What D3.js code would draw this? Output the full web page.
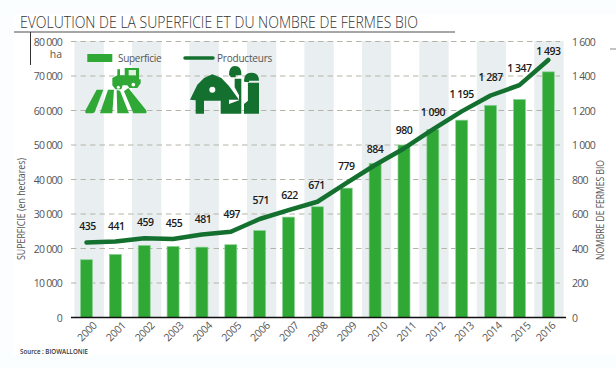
<!DOCTYPE html>
<html>
<head>
<meta charset="utf-8">
<script src="https://cdn.jsdelivr.net/npm/d3@7"></script>
<style>
  html, body { margin: 0; padding: 0; background: #fbfefe; }
  svg { display: block; }
  text { font-family: "Open Sans", sans-serif; }
</style>
</head>
<body>
<div id="chart"></div>
<script>
const years = ['2000','2001','2002','2003','2004','2005','2006','2007','2008','2009','2010','2011','2012','2013','2014','2015','2016'];
const superficie = [16750,18300,20900,20600,20400,21100,25200,29100,32100,37500,44700,50000,54500,57200,61500,63200,71200];
const producteurs = [435,441,459,455,481,497,571,622,671,779,884,980,1090,1195,1287,1347,1493];
const leftTicks = [0,10000,20000,30000,40000,50000,60000,70000,80000];
const rightTicks = [0,200,400,600,800,1000,1200,1400,1600];

const width = 616;
const height = 368;
const green = '#2fa836';
const darkGreen = '#14702f';
const axisGrey = '#555';

const svg = d3.select('#chart').append('svg')
  .attr('width', width)
  .attr('height', height);

svg.append('rect').attr('x', 13).attr('y', 15).attr('width', width - 13).attr('height', 340).attr('fill', '#fff');

const xScale = d3.scalePoint().domain(years).range([86.5, 548.3]);
const bandScale = d3.scaleBand().domain(years).range([74.5, 563]);
const yLeft = d3.scaleLinear().domain([0, 80000]).range([317.5, 41.5]);
const yRight = d3.scaleLinear().domain([0, 1600]).range([317.5, 41.5]);

const fmt = (d) => d3.format(',')(d).replace(',', ' ');

// alternating grey columns
svg.append('g')
  .selectAll('rect')
  .data(years.filter((d, i) => i % 2 === 0))
  .join('rect')
  .attr('x', (d) => bandScale(d))
  .attr('y', 41)
  .attr('width', bandScale.step() + 0.6)
  .attr('height', 276)
  .attr('fill', '#e9eef1');

// gridlines
svg.append('g')
  .selectAll('line')
  .data(leftTicks.slice(1))
  .join('line')
  .attr('x1', 71)
  .attr('x2', 560)
  .attr('y1', (d) => yLeft(d))
  .attr('y2', (d) => yLeft(d))
  .attr('stroke', '#b4b4a8')
  .attr('stroke-width', 1)
  .attr('stroke-dasharray', '5.5 4');

// bars
svg.append('g')
  .selectAll('rect')
  .data(superficie)
  .join('rect')
  .attr('x', (d, i) => xScale(years[i]) - 6)
  .attr('y', (d) => yLeft(d))
  .attr('width', 12)
  .attr('height', (d) => yLeft(0) - yLeft(d))
  .attr('fill', green)
  .attr('stroke', '#8ed296')
  .attr('stroke-width', 0.7);

// baseline
svg.append('line')
  .attr('x1', 71).attr('x2', 566)
  .attr('y1', 317.5).attr('y2', 317.5)
  .attr('stroke', '#111')
  .attr('stroke-width', 1.5);

// producers line
const line = d3.line()
  .x((d, i) => xScale(years[i]))
  .y((d) => yRight(d));

svg.append('path')
  .attr('d', line(producteurs))
  .attr('fill', 'none')
  .attr('stroke', darkGreen)
  .attr('stroke-width', 4.5)
  .attr('stroke-linecap', 'round')
  .attr('stroke-linejoin', 'round');

// labels sit a fixed distance above the line, the last one closer
const labelNudge = [1,2,1,1,1,-1,-2,2,0,0,1,-1,0,0,-1,0,8];
svg.append('g')
  .selectAll('text')
  .data(producteurs)
  .join('text')
  .attr('x', (d, i) => xScale(years[i]) + (i < 8 ? 1 : -1) + (i > 8 ? 1 : 0))
  .attr('y', (d, i) => yRight(d) - 13 + labelNudge[i])
  .attr('text-anchor', 'middle')
  .attr('font-size', 10.5)
  .attr('font-weight', 600)
  .attr('letter-spacing', -0.5)
  .attr('fill', '#1a1a1a')
  .text(fmt);

// left axis
const leftAxis = svg.append('g')
  .attr('transform', 'translate(62,0)')
  .call(d3.axisLeft(yLeft).tickValues(leftTicks).tickSize(0).tickPadding(0).tickFormat(fmt));
leftAxis.select('.domain').remove();
leftAxis.selectAll('text')
  .attr('dy', '0.62em')
  .attr('y', -3)
  .attr('font-size', 10.5)
  .attr('letter-spacing', -0.75)
  .attr('fill', axisGrey);

// right axis
const rightAxis = svg.append('g')
  .attr('transform', 'translate(572,0)')
  .call(d3.axisRight(yRight).tickValues(rightTicks).tickSize(0).tickPadding(0).tickFormat(fmt));
rightAxis.select('.domain').remove();
rightAxis.selectAll('text')
  .attr('dy', '0.62em')
  .attr('y', -3)
  .attr('font-size', 10.5)
  .attr('letter-spacing', -0.75)
  .attr('fill', axisGrey);

// x axis, labels rotated
const xLabelNudge = [0,0,0,0,0,0,0,0,0,0,2,2,2,2,1,1,-3];
const xAxis = svg.append('g')
  .attr('transform', 'translate(0,331.5)')
  .call(d3.axisBottom(xScale).tickSize(0).tickPadding(0));
xAxis.select('.domain').remove();
xAxis.selectAll('text')
  .attr('y', 0)
  .attr('dy', '0.35em')
  .attr('text-anchor', 'middle')
  .attr('transform', (d, i) => `translate(${xLabelNudge[i]},0) rotate(-45)`)
  .attr('font-size', 10.5)
  .attr('letter-spacing', -0.4)
  .attr('fill', axisGrey);

// title and rules
svg.append('text')
  .attr('x', 20).attr('y', 28)
  .attr('font-size', 17)
  .attr('font-weight', 300)
  .attr('textLength', 398)
  .attr('lengthAdjust', 'spacingAndGlyphs')
  .attr('fill', '#333')
  .text('EVOLUTION DE LA SUPERFICIE ET DU NOMBRE DE FERMES BIO');
svg.append('line').attr('x1', 14).attr('x2', 455).attr('y1', 32).attr('y2', 32).attr('stroke', '#888').attr('stroke-width', 1.5);
svg.append('line').attr('x1', 30.5).attr('x2', 30.5).attr('y1', 32).attr('y2', 65).attr('stroke', '#333').attr('stroke-width', 1);
svg.append('line').attr('x1', 610).attr('x2', 616).attr('y1', 49).attr('y2', 49).attr('stroke', '#888').attr('stroke-width', 1);

svg.append('text')
  .attr('x', 62).attr('y', 58)
  .attr('text-anchor', 'end')
  .attr('font-size', 10.5)
  .attr('fill', axisGrey)
  .text('ha');

// axis titles
svg.append('text')
  .attr('transform', 'translate(25,209) rotate(-90)')
  .attr('text-anchor', 'middle')
  .attr('font-size', 10)
  .attr('textLength', 102)
  .attr('lengthAdjust', 'spacingAndGlyphs')
  .attr('fill', axisGrey)
  .text('SUPERFICIE (en hectares)');
svg.append('text')
  .attr('transform', 'translate(604,210) rotate(-90)')
  .attr('text-anchor', 'middle')
  .attr('font-size', 10)
  .attr('textLength', 100)
  .attr('lengthAdjust', 'spacingAndGlyphs')
  .attr('fill', axisGrey)
  .text('NOMBRE DE FERMES BIO');

// legend
svg.append('rect').attr('x', 87.3).attr('y', 54).attr('width', 25).attr('height', 8).attr('fill', green);
svg.append('text').attr('x', 118).attr('y', 62).attr('font-size', 10).attr('letter-spacing', -0.3).attr('fill', axisGrey).text('Superficie');
svg.append('path').attr('d', 'M185,58 H213').attr('stroke', darkGreen).attr('stroke-width', 3.5).attr('stroke-linecap', 'round');
svg.append('text').attr('x', 217).attr('y', 62).attr('font-size', 10).attr('letter-spacing', -0.2).attr('fill', axisGrey).text('Producteurs');

// pictograms, traced at 3x
const tractor = svg.append('g').attr('transform', 'translate(84,64) scale(0.3333)').attr('fill', green);
[
  'M5,138 L38,77 H58 L33,142 Q31,148 25,148 H9 Q1,148 5,138 Z',
  'M48,148 L72,77 H90 L85,148 Z',
  'M100,148 L98,78 L108,80 L135,148 Z',
  'M148,148 L120,82 L133,72 L186,138 Q191,148 182,148 Z',
  'M122,12 H165 V46 H170 V58 L160,72 H136 L130,64 H116 L112,76 H94 L85,64 L85,42 L100,34 V16 H108 V34 H122 Z'
].forEach((d) => tractor.append('path').attr('d', d));
tractor.append('path').attr('d', 'M134,18 H156 V34 H134 Z').attr('fill', '#dff2e0');
tractor.append('circle').attr('cx', 148).attr('cy', 62).attr('r', 5.5).attr('fill', '#fff');
tractor.append('circle').attr('cx', 103).attr('cy', 70).attr('r', 4.5).attr('fill', '#fff');

const barn = svg.append('g').attr('transform', 'translate(184,62) scale(0.3333)').attr('fill', darkGreen);
[
  'M18,113 L40,68 L60,48 L85,37 L112,48 L135,72 L165,113 H135 V155 H110 V116 H60 V155 H35 V115 Z',
  'M135,38 Q135,12 153,12 Q172,12 172,36 V40 H155 V46 H141 Z',
  'M152,50 H172 V155 H135 V126 L165,115 V100 L152,76 Z',
  'M180,56 Q180,32 202,32 Q225,32 225,56 H195 V60 H182 Z',
  'M192,62 H225 V155 H180 V126 L192,116 Z'
].forEach((d) => barn.append('path').attr('d', d));
barn.append('circle').attr('cx', 85).attr('cy', 83).attr('r', 9).attr('fill', '#fff');

// source
svg.append('text')
  .attr('x', 20).attr('y', 354)
  .attr('font-size', 7.5)
  .attr('font-weight', 600)
  .attr('textLength', 68)
  .attr('lengthAdjust', 'spacingAndGlyphs')
  .attr('fill', '#333')
  .text('Source : BIOWALLONIE');
</script>
</body>
</html>
